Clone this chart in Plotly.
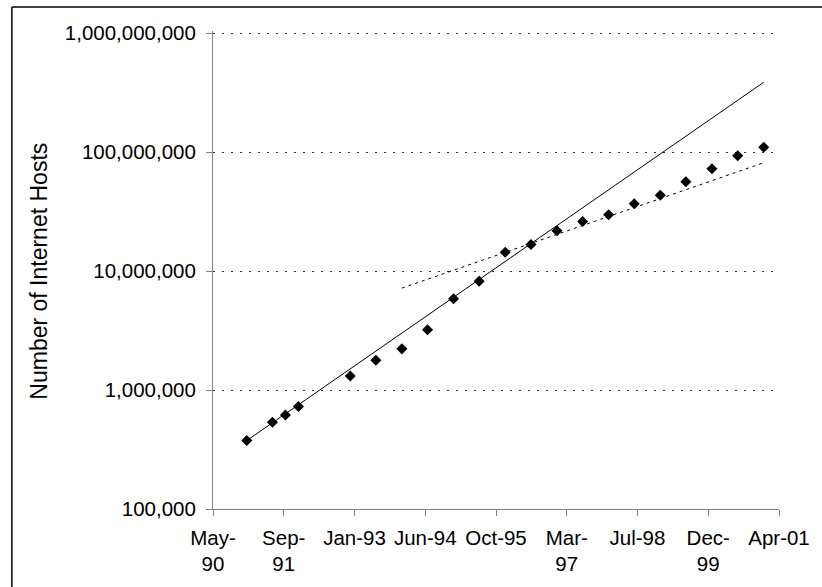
import plotly.graph_objects as go
import pandas as pd

# ---- data (ISC Internet host survey counts) ----
survey_dates = ["1991-01-01", "1991-07-01", "1991-10-01", "1992-01-01",
                "1993-01-01", "1993-07-01", "1994-01-01", "1994-07-01",
                "1995-01-01", "1995-07-01", "1996-01-01", "1996-07-01",
                "1997-01-01", "1997-07-01", "1998-01-01", "1998-07-01",
                "1999-01-01", "1999-07-01", "2000-01-01", "2000-07-01",
                "2001-01-01"]
hosts = [376000, 535000, 617000, 727000,
         1313000, 1776000, 2217000, 3212000,
         5846000, 8200000, 14352000, 16729000,
         21819000, 26053000, 29670000, 36739000,
         43230000, 56218000, 72398000, 93047785,
         109574429]

# growth models: value doubles every N years, anchored on a survey point
fast_doubling_years = 1.0
fast_anchor = "1991-01-01"
fast_span = ["1991-01-01", "2001-01-01"]
slow_doubling_years = 2.0
slow_anchor = "1996-01-01"
slow_span = ["1994-01-01", "2001-01-01"]

# axis ticks (Excel date serials, 500-day major unit)
x_tick_serials = [33000, 33500, 34000, 34500, 35000, 35500, 36000, 36500, 37000]
x_tick_labels = ["May-<br>90", "Sep-<br>91", "Jan-93", "Jun-94", "Oct-95",
                 "Mar-<br>97", "Jul-98", "Dec-<br>99", "Apr-01"]
y_tick_values = [1e5, 1e6, 1e7, 1e8, 1e9]
y_tick_labels = ["100,000", "1,000,000", "10,000,000", "100,000,000", "1,000,000,000"]
y_title = "Number of Internet Hosts"

# ---- helpers ----
excel_epoch = pd.Timestamp("1899-12-30")
x_tick_dates = [excel_epoch + pd.Timedelta(days=s) for s in x_tick_serials]
dates = pd.to_datetime(survey_dates)
value_at = dict(zip(dates, hosts))


def growth_line(anchor, span, doubling_years):
    a = pd.Timestamp(anchor)
    v0 = value_at[a]
    xs = pd.to_datetime(span)
    ys = [v0 * 2 ** (((d - a).days / 365.25) / doubling_years) for d in xs]
    return xs, ys


fx, fy = growth_line(fast_anchor, fast_span, fast_doubling_years)
sx, sy = growth_line(slow_anchor, slow_span, slow_doubling_years)

FONT = "Liberation Sans, Arial, sans-serif"
AXIS_GRAY = "#808080"

fig = go.Figure()
fig.add_trace(go.Scatter(x=fx, y=fy, mode="lines",
                         line=dict(color="black", width=1), hoverinfo="skip"))
fig.add_trace(go.Scatter(x=sx, y=sy, mode="lines",
                         line=dict(color="black", width=1, dash="3px,4px"), hoverinfo="skip"))
fig.add_trace(go.Scatter(x=dates, y=hosts, mode="markers",
                         marker=dict(symbol="diamond", size=8.5, color="black",
                                     line=dict(width=0))))

x_lo = excel_epoch + pd.Timedelta(days=x_tick_serials[0])
x_hi = excel_epoch + pd.Timedelta(days=x_tick_serials[-1])

# plot height 478 px spanning 4.0168 decades -> 1e9 sits 2 px below the top edge
fig.update_layout(
    width=822, height=587,
    margin=dict(l=213, r=34, t=31, b=78, pad=0),
    paper_bgcolor="white", plot_bgcolor="white",
    showlegend=False,
    font=dict(family=FONT, size=20.5, color="black"),
    xaxis=dict(
        range=[x_lo, x_hi], tickmode="array", tickvals=x_tick_dates, ticktext=x_tick_labels,
        showgrid=False, showline=True, linecolor=AXIS_GRAY, linewidth=1,
        ticks="outside", ticklen=6, tickcolor=AXIS_GRAY, tickwidth=1,
        tickangle=0, zeroline=False, ticklabelstandoff=4,
        tickfont=dict(family=FONT, size=20.5, color="black"),
    ),
    yaxis=dict(
        type="log", range=[5, 9.0168], tickmode="array", tickvals=y_tick_values, ticktext=y_tick_labels,
        showgrid=True, gridcolor="#333333", gridwidth=1, griddash="2px,7px",
        showline=True, linecolor=AXIS_GRAY, linewidth=1,
        ticks="outside", ticklen=6, tickcolor=AXIS_GRAY, tickwidth=1,
        ticklabelstandoff=6, zeroline=False,
        tickfont=dict(family=FONT, size=20.5, color="black"),
    ),
    annotations=[dict(
        text=y_title, xref="paper", yref="paper", x=-0.308, y=0.4979,
        xanchor="center", yanchor="middle", textangle=-90, showarrow=False,
        font=dict(family=FONT, size=23, color="black"),
    )],
    shapes=[
        dict(type="line", xref="paper", yref="paper", x0=-0.3553, x1=-0.3553,
             y0=-0.3, y1=1.05, line=dict(color="black", width=1.5)),
        dict(type="line", xref="paper", yref="paper", x0=-0.3553, x1=1.2,
             y0=1.05, y1=1.05, line=dict(color="black", width=1.5)),
    ],
)

fig.write_html("out.html", config={"displayModeBar": False},
               post_script="document.body.style.margin='0';document.body.style.overflow='hidden';")
